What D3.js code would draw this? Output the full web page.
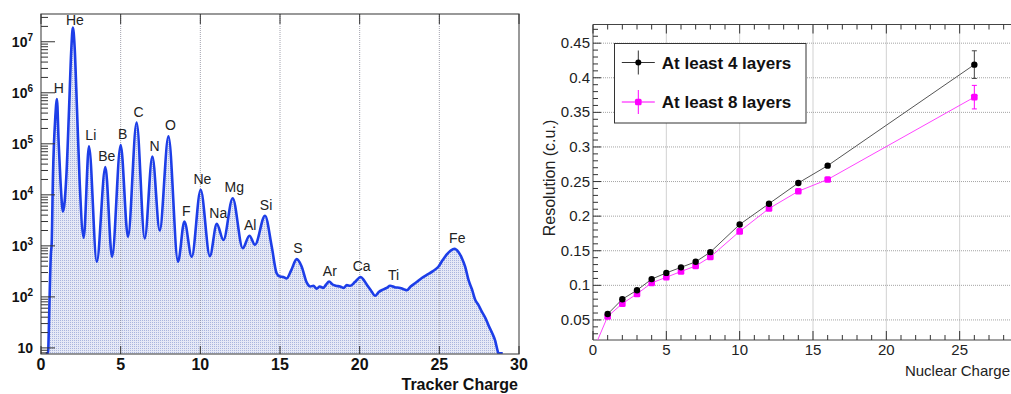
<!DOCTYPE html>
<html>
<head>
<meta charset="utf-8">
<script src="https://cdn.jsdelivr.net/npm/d3@7"></script>
<style>
  body { margin: 0; background: #fff; }
  svg { display: block; font-family: "Liberation Sans", Arial, Helvetica, sans-serif; }
</style>
</head>
<body>
<svg id="chart" width="1011" height="394"></svg>
<script>
// ---- left panel: tracker charge spectrum ----
const charge = [0.30, 0.44, 0.50, 0.54, 0.62, 0.67, 0.75, 0.90, 1.00, 1.11, 1.23, 1.38,
  1.59, 1.76, 1.90, 2.00, 2.11, 2.26, 2.43, 2.68, 3.01, 3.50, 4.04, 4.46, 5.00, 5.46,
  6.00, 6.51, 6.99, 7.45, 8.00, 8.60, 9.00, 9.46, 10.02, 10.60, 11.03, 11.45, 12.03,
  12.66, 13.08, 13.43, 14.06, 14.48, 14.79, 15.00, 15.20, 15.42, 15.70, 16.05, 16.35,
  16.68, 16.90, 17.10, 17.30, 17.50, 17.70, 17.90, 18.08, 18.30, 18.50, 18.77, 19.00,
  19.19, 19.40, 19.70, 20.07, 20.25, 20.44, 20.70, 20.97, 21.20, 21.49, 21.70, 21.91,
  22.20, 22.54, 22.80, 22.96, 23.20, 23.58, 23.90, 24.21, 24.60, 24.94, 25.20, 25.47,
  25.70, 25.95, 26.20, 26.41, 26.62, 26.83, 27.05, 27.25, 27.45, 27.66, 27.90, 28.08,
  28.30, 28.50, 28.65, 28.71, 28.98];
const counts = [7.8, 7.8, 30, 100, 700, 1100, 2.3e4, 3.4e5, 7.5e5, 1.0e5, 1.7e4, 4.7e3,
  2.3e4, 4.7e5, 6.9e6, 1.9e7, 8.0e6, 4.7e5, 1.7e4, 1.45e3, 8.9e4, 490, 3.5e4, 610, 9.5e4, 1.5e3,
  2.6e5, 1.4e3, 5.6e4, 2.0e3, 1.4e5, 490, 3.0e3, 610, 1.26e4, 630, 2.7e3, 1.3e3, 8.6e3,
  900, 1.58e3, 1.05e3, 3.9e3, 970, 290, 250, 245, 230, 330, 550, 400,
  190, 160, 165, 145, 160, 150, 175, 200, 175, 165, 160, 150,
  170, 165, 195, 245, 215, 175, 135, 105, 125, 140, 150, 165,
  155, 150, 140, 135, 160, 195, 235, 270, 320, 390, 520, 680,
  800, 880, 760, 580, 390, 215, 140, 88, 70, 52, 38, 28,
  20, 14, 9, 7.8, 7.8];
const elements = ['H', 'He', 'Li', 'Be', 'B', 'C', 'N', 'O', 'F', 'Ne', 'Na', 'Mg', 'Al', 'Si', 'S', 'Ar', 'Ca', 'Ti', 'Fe'];
const elementZ = [1, 2, 3, 4, 5, 6, 7, 8, 9, 10, 11, 12, 13, 14, 16, 18, 20, 22, 26];
const leftXTicks = [0, 5, 10, 15, 20, 25, 30];
const leftGrid = [5, 10, 15, 20, 25];
const decades = [1, 2, 3, 4, 5, 6, 7];

// ---- right panel: charge resolution ----
const z4 = [1, 2, 3, 4, 5, 6, 7, 8, 10, 12, 14, 16, 26];
const res4 = [0.0585, 0.080, 0.093, 0.109, 0.118, 0.126, 0.134, 0.148, 0.188, 0.218, 0.248, 0.273, 0.419];
const err4 = [0.002, 0.002, 0.002, 0.002, 0.002, 0.002, 0.002, 0.002, 0.002, 0.002, 0.002, 0.002, 0.020];
const z8 = [0, 1, 2, 3, 4, 5, 6, 7, 8, 10, 12, 14, 16, 26];
const res8 = [0.005, 0.055, 0.0736, 0.0876, 0.1035, 0.1117, 0.120, 0.128, 0.141, 0.178, 0.211, 0.236, 0.253, 0.372];
const err8 = [0, 0.002, 0.002, 0.002, 0.002, 0.002, 0.002, 0.002, 0.002, 0.002, 0.002, 0.002, 0.002, 0.017];
const rightXTicks = [0, 5, 10, 15, 20, 25];
const rightYTicks = [0.05, 0.1, 0.15, 0.2, 0.25, 0.3, 0.35, 0.4, 0.45];
const legendLabels = ['At least 4 layers', 'At least 8 layers'];
const seriesColors = ['#000000', '#ff00ff'];
const lineColors = ['#555555', '#ff44ff'];

const svg = d3.select('#chart');
const defs = svg.append('defs');

// dotted hatch like the ROOT fill style
const pat = defs.append('pattern')
  .attr('id', 'dots')
  .attr('width', 2)
  .attr('height', 2)
  .attr('patternUnits', 'userSpaceOnUse');
pat.append('rect').attr('width', 2).attr('height', 2).attr('fill', '#e6e9f6');
pat.append('rect').attr('width', 1).attr('height', 1).attr('fill', '#aab5de');

/* ================= LEFT ================= */
const L = { left: 41, right: 519, top: 14, bottom: 354 };
const xL = d3.scaleLinear().domain([0, 30]).range([L.left, L.right]);
const yL = d3.scaleLog().domain([7.6, 3.5e7]).range([L.bottom, L.top]);

defs.append('clipPath').attr('id', 'clipL')
  .append('rect')
  .attr('x', L.left).attr('y', L.top)
  .attr('width', L.right - L.left).attr('height', L.bottom - L.top);

const spectrum = charge.map((q, i) => [q, counts[i]]);

const gL = svg.append('g');

// area + line
const area = d3.area()
  .x(d => xL(d[0]))
  .y0(L.bottom)
  .y1(d => yL(d[1]))
  .curve(d3.curveMonotoneX);
const line = d3.line()
  .x(d => xL(d[0]))
  .y(d => yL(d[1]))
  .curve(d3.curveMonotoneX);

gL.append('path')
  .datum(spectrum)
  .attr('clip-path', 'url(#clipL)')
  .attr('fill', 'url(#dots)')
  .attr('d', area);

// vertical grid
gL.append('g')
  .selectAll('line')
  .data(leftGrid)
  .join('line')
  .attr('x1', d => xL(d)).attr('x2', d => xL(d))
  .attr('y1', L.top).attr('y2', L.bottom)
  .attr('stroke', '#8a8a99')
  .attr('stroke-width', 0.8)
  .attr('stroke-dasharray', '1,1');

gL.append('path')
  .datum(spectrum)
  .attr('clip-path', 'url(#clipL)')
  .attr('fill', 'none')
  .attr('stroke', '#1d3ee8')
  .attr('stroke-width', 2.6)
  .attr('stroke-linejoin', 'round')
  .attr('d', line);

// frame
gL.append('rect')
  .attr('x', L.left).attr('y', L.top)
  .attr('width', L.right - L.left).attr('height', L.bottom - L.top)
  .attr('fill', 'none')
  .attr('stroke', '#555')
  .attr('stroke-width', 1.2);

// y ticks (log, inside)
const yTickVals = yL.ticks().filter(v => v >= 7.6 && v <= 3.5e7);
gL.append('g')
  .selectAll('line')
  .data(yTickVals)
  .join('line')
  .attr('x1', L.left)
  .attr('x2', d => L.left + (Math.abs(Math.log10(d) - Math.round(Math.log10(d))) < 1e-6 ? 14 : 7))
  .attr('y1', d => yL(d)).attr('y2', d => yL(d))
  .attr('stroke', '#333')
  .attr('stroke-width', 1);

// y labels 10^n
const yLab = gL.append('g')
  .selectAll('text')
  .data(decades)
  .join('text')
  .attr('x', 33)
  .attr('y', d => yL(Math.pow(10, d)) + 5)
  .attr('text-anchor', 'end')
  .attr('font-size', 14)
  .attr('font-weight', 'bold')
  .attr('fill', '#111');
yLab.append('tspan').text('10');
yLab.filter(d => d > 1)
  .append('tspan')
  .attr('font-size', 10)
  .attr('dy', -6)
  .text(d => d);

// x ticks top & bottom
gL.append('g')
  .selectAll('line')
  .data(leftXTicks)
  .join('line')
  .attr('x1', d => xL(d)).attr('x2', d => xL(d))
  .attr('y1', L.bottom).attr('y2', L.bottom - 8)
  .attr('stroke', '#333');
gL.append('g')
  .selectAll('line')
  .data(leftXTicks)
  .join('line')
  .attr('x1', d => xL(d)).attr('x2', d => xL(d))
  .attr('y1', L.top).attr('y2', L.top + 10)
  .attr('stroke', '#333');

gL.append('g')
  .selectAll('text')
  .data(leftXTicks)
  .join('text')
  .attr('x', d => xL(d))
  .attr('y', 370)
  .attr('text-anchor', 'middle')
  .attr('font-size', 16)
  .attr('font-weight', 'bold')
  .attr('fill', '#111')
  .text(d => d);

gL.append('text')
  .attr('x', 518)
  .attr('y', 390)
  .attr('text-anchor', 'end')
  .attr('font-size', 16)
  .attr('font-weight', 'bold')
  .attr('fill', '#111')
  .text('Tracker Charge');

// element labels above their peaks
gL.append('g')
  .selectAll('text')
  .data(elements)
  .join('text')
  .attr('x', (d, i) => xL(elementZ[i]) + 2)
  .attr('y', (d, i) => {
    const near = spectrum.filter(p => Math.abs(p[0] - elementZ[i]) < 0.35);
    return Math.max(yL(d3.max(near, p => p[1])) - 6, 25);
  })
  .attr('text-anchor', 'middle')
  .attr('font-size', 14)
  .attr('fill', '#222')
  .text(d => d);

/* ================= RIGHT ================= */
const R = { left: 593, right: 1011, top: 24.5, bottom: 340 };
const xR = d3.scaleLinear().domain([0, 28.5]).range([R.left, R.right]);
const yR = d3.scaleLinear().domain([0.021, 0.477]).range([R.bottom, R.top]);

defs.append('clipPath').attr('id', 'clipR')
  .append('rect')
  .attr('x', R.left).attr('y', R.top)
  .attr('width', R.right - R.left).attr('height', R.bottom - R.top);

const gR = svg.append('g');

// grid
gR.append('g')
  .selectAll('line')
  .data(rightXTicks.filter(d => d > 0))
  .join('line')
  .attr('x1', d => xR(d)).attr('x2', d => xR(d))
  .attr('y1', R.top).attr('y2', R.bottom)
  .attr('stroke', '#9a9a9a')
  .attr('stroke-width', 0.9)
  .attr('stroke-dasharray', '1,1');
gR.append('g')
  .selectAll('line')
  .data(rightYTicks)
  .join('line')
  .attr('x1', R.left).attr('x2', R.right)
  .attr('y1', d => yR(d)).attr('y2', d => yR(d))
  .attr('stroke', '#9a9a9a')
  .attr('stroke-width', 0.9)
  .attr('stroke-dasharray', '1,1');

// frame
gR.append('path')
  .attr('d', `M${R.right + 2},${R.top}H${R.left}V${R.bottom}H${R.right + 2}`)
  .attr('fill', 'none')
  .attr('stroke', '#444')
  .attr('stroke-width', 1);

// ticks
const xMinor = d3.range(0, 29, 1);
gR.append('g')
  .selectAll('line')
  .data(xMinor)
  .join('line')
  .attr('x1', d => xR(d)).attr('x2', d => xR(d))
  .attr('y1', R.bottom).attr('y2', d => R.bottom - (d % 5 === 0 ? 9 : 5))
  .attr('stroke', '#333');
gR.append('g')
  .selectAll('line')
  .data(xMinor)
  .join('line')
  .attr('x1', d => xR(d)).attr('x2', d => xR(d))
  .attr('y1', R.top).attr('y2', d => R.top + (d % 5 === 0 ? 9 : 5))
  .attr('stroke', '#333');
const yMinor = d3.range(3, 48).map(v => v / 100);
gR.append('g')
  .selectAll('line')
  .data(yMinor)
  .join('line')
  .attr('x1', R.left)
  .attr('x2', d => R.left + (Math.round(d * 100) % 5 === 0 ? 8 : 5))
  .attr('y1', d => yR(d)).attr('y2', d => yR(d))
  .attr('stroke', '#333');

gR.append('g')
  .selectAll('text')
  .data(rightYTicks)
  .join('text')
  .attr('x', 590)
  .attr('y', d => yR(d) + 5)
  .attr('text-anchor', 'end')
  .attr('font-size', 15)
  .attr('fill', '#222')
  .text(d => String(Math.round(d * 100) / 100));
gR.append('g')
  .selectAll('text')
  .data(rightXTicks)
  .join('text')
  .attr('x', d => xR(d))
  .attr('y', 355)
  .attr('text-anchor', 'middle')
  .attr('font-size', 15)
  .attr('fill', '#222')
  .text(d => d);

gR.append('text')
  .attr('x', 1010)
  .attr('y', 376)
  .attr('text-anchor', 'end')
  .attr('font-size', 15)
  .attr('fill', '#222')
  .text('Nuclear Charge');
gR.append('text')
  .attr('transform', 'translate(555,178) rotate(-90)')
  .attr('text-anchor', 'middle')
  .attr('font-size', 16)
  .attr('fill', '#222')
  .text('Resolution (c.u.)');

// series
const series = [
  { z: z4, r: res4, e: err4 },
  { z: z8, r: res8, e: err8 },
];
const lineR = d3.line().x(d => xR(d.z)).y(d => yR(d.r));
const gData = gR.append('g').attr('clip-path', 'url(#clipR)');

series.slice().reverse().forEach((s, ri) => {
  const i = series.length - 1 - ri;
  const pts = s.z.map((z, k) => ({ z: z, r: s.r[k], e: s.e[k] }));
  gData.append('path')
    .datum(pts)
    .attr('fill', 'none')
    .attr('stroke', lineColors[i])
    .attr('stroke-width', 1)
    .attr('d', lineR);

  // error bars with caps
  const eb = gData.append('g')
    .selectAll('g')
    .data(pts.filter(p => p.e > 0))
    .join('g')
    .attr('stroke', i === 0 ? '#444' : seriesColors[i])
    .attr('stroke-width', 1);
  eb.append('line')
    .attr('x1', p => xR(p.z)).attr('x2', p => xR(p.z))
    .attr('y1', p => yR(p.r - p.e)).attr('y2', p => yR(p.r + p.e));
  eb.filter(p => p.e > 0.005).append('line')
    .attr('x1', p => xR(p.z) - 2.5).attr('x2', p => xR(p.z) + 2.5)
    .attr('y1', p => yR(p.r + p.e)).attr('y2', p => yR(p.r + p.e));
  eb.filter(p => p.e > 0.005).append('line')
    .attr('x1', p => xR(p.z) - 2.5).attr('x2', p => xR(p.z) + 2.5)
    .attr('y1', p => yR(p.r - p.e)).attr('y2', p => yR(p.r - p.e));

  if (i === 0) {
    gData.append('g')
      .selectAll('circle')
      .data(pts)
      .join('circle')
      .attr('cx', p => xR(p.z)).attr('cy', p => yR(p.r))
      .attr('r', 3.2)
      .attr('fill', seriesColors[i]);
  } else {
    gData.append('g')
      .selectAll('rect')
      .data(pts)
      .join('rect')
      .attr('x', p => xR(p.z) - 3.3).attr('y', p => yR(p.r) - 3.3)
      .attr('width', 6.6).attr('height', 6.6)
      .attr('rx', 1.5)
      .attr('fill', seriesColors[i]);
  }
});

// legend
const lg = gR.append('g');
lg.append('rect')
  .attr('x', 614.5).attr('y', 43.5)
  .attr('width', 191.5).attr('height', 79.5)
  .attr('fill', '#fff')
  .attr('stroke', '#333')
  .attr('stroke-width', 1);
const entry = lg.selectAll('g.entry')
  .data(legendLabels)
  .join('g')
  .attr('class', 'entry')
  .attr('transform', (d, i) => `translate(638.3,${62.5 + i * 39.5})`);
entry.append('line')
  .attr('x1', -16.5).attr('x2', 16.5)
  .attr('stroke', (d, i) => i === 0 ? '#333' : seriesColors[i]);
entry.append('line')
  .attr('y1', -12).attr('y2', 12)
  .attr('stroke', (d, i) => i === 0 ? '#333' : seriesColors[i]);
entry.each(function (d, i) {
  const g = d3.select(this);
  if (i === 0) {
    g.append('circle').attr('r', 3).attr('fill', seriesColors[i]);
  } else {
    g.append('rect').attr('x', -3.3).attr('y', -3.3).attr('width', 6.6).attr('height', 6.6)
      .attr('rx', 1.5).attr('fill', seriesColors[i]);
  }
});
entry.append('text')
  .attr('x', 23.5)
  .attr('y', 6)
  .attr('font-size', 17)
  .attr('font-weight', 'bold')
  .attr('fill', '#111')
  .text(d => d);
</script>
</body>
</html>
